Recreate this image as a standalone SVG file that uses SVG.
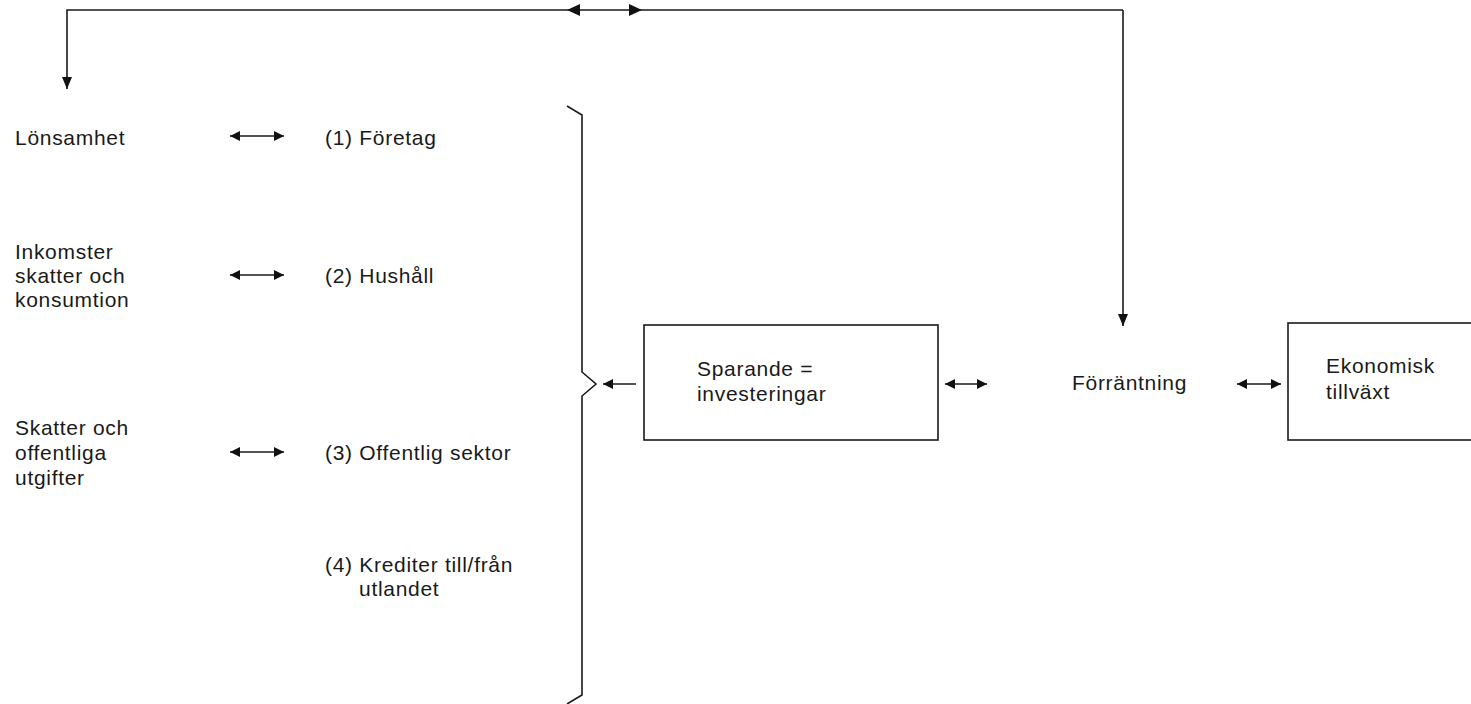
<svg xmlns="http://www.w3.org/2000/svg" width="1471" height="704" viewBox="0 0 1471 704">
<defs>
<marker id="ah" viewBox="0 0 10 10" refX="10" refY="5" markerWidth="10" markerHeight="10" markerUnits="userSpaceOnUse" orient="auto-start-reverse">
<path d="M0,0 L10,5 L0,10 z" fill="#111"/>
</marker>
<marker id="ahb" viewBox="0 0 12 10" refX="12" refY="5" markerWidth="12" markerHeight="12" markerUnits="userSpaceOnUse" orient="auto-start-reverse">
<path d="M0,0 L12,5 L0,10 z" fill="#111"/>
</marker>
</defs>
<style>
text{font-family:"Liberation Sans",Arial,sans-serif;font-size:21px;fill:#1a1a1a;letter-spacing:0.7px}
.ln{fill:none;stroke:#1a1a1a;stroke-width:1.6}
.box{fill:#fff;stroke:#1a1a1a;stroke-width:1.6}
.da{fill:none;stroke:#1a1a1a;stroke-width:1.5;marker-start:url(#ah);marker-end:url(#ah)}
</style>
<rect width="1471" height="704" fill="#fff"/>
<g id="connectors">
<path class="ln" d="M1123,10 H67 V89" marker-end="url(#ahb)"/>
<path class="ln" d="M1123,10 V326" marker-end="url(#ahb)"/>
<path d="M567,10 L580,4 L580,16 z" fill="#111"/>
<path d="M642,10 L629,4 L629,16 z" fill="#111"/>
<line class="da" x1="230" y1="136" x2="284" y2="136"/>
<line class="da" x1="230" y1="275" x2="284" y2="275"/>
<line class="da" x1="230" y1="452" x2="284" y2="452"/>
<line class="ln" x1="636" y1="384" x2="603" y2="384" marker-end="url(#ah)"/>
<line class="da" x1="945" y1="384" x2="987" y2="384"/>
<line class="da" x1="1237" y1="384" x2="1281" y2="384"/>
<path class="ln" d="M567,106 L582,115 V372 L596,384 L582,396 V695 L567,704"/>
</g>
<g id="n-lonsamhet"><text x="15" y="145">Lönsamhet</text></g>
<g id="n-foretag"><text x="325" y="145">(1) Företag</text></g>
<g id="n-inkomster"><text x="15" y="259">Inkomster</text><text x="15" y="283">skatter och</text><text x="15" y="307">konsumtion</text></g>
<g id="n-hushall"><text x="325" y="283">(2) Hushåll</text></g>
<g id="n-skatter"><text x="15" y="435">Skatter och</text><text x="15" y="460">offentliga</text><text x="15" y="485">utgifter</text></g>
<g id="n-offentlig"><text x="325" y="460">(3) Offentlig sektor</text></g>
<g id="n-krediter"><text x="325" y="572">(4) Krediter till/från</text><text x="359" y="596">utlandet</text></g>
<g id="n-sparande"><rect class="box" x="644" y="325" width="294" height="115"/><text x="697" y="376">Sparande =</text><text x="697" y="401">investeringar</text></g>
<g id="n-forrantning"><text x="1072" y="390">Förräntning</text></g>
<g id="n-tillvaxt"><rect class="box" x="1288" y="323" width="190" height="117"/><text x="1326" y="373">Ekonomisk</text><text x="1326" y="399">tillväxt</text></g>
</svg>
